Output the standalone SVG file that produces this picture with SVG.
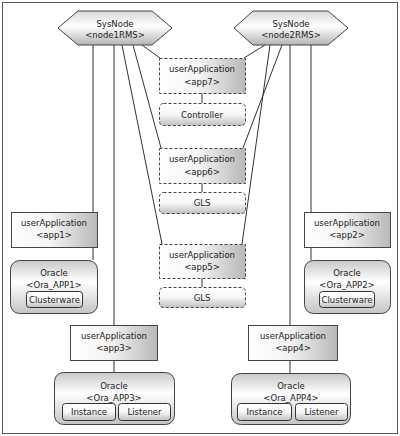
<svg xmlns="http://www.w3.org/2000/svg" width="400" height="436" viewBox="0 0 400 436">
<defs>
<linearGradient id="gHex" x1="0" y1="0" x2="0" y2="1">
<stop offset="0" stop-color="#d8d8d8"/><stop offset="0.45" stop-color="#ffffff"/><stop offset="1" stop-color="#b4b4b4"/>
</linearGradient>
<linearGradient id="gApp" x1="0" y1="0" x2="1" y2="0">
<stop offset="0" stop-color="#ffffff"/><stop offset="0.45" stop-color="#f4f4f4"/><stop offset="1" stop-color="#b8b8b8"/>
</linearGradient>
<linearGradient id="gRes" x1="0" y1="0" x2="0" y2="1">
<stop offset="0" stop-color="#c8c8c8"/><stop offset="0.4" stop-color="#ffffff"/><stop offset="1" stop-color="#c4c4c4"/>
</linearGradient>
<linearGradient id="gSub" x1="0" y1="0" x2="0" y2="1">
<stop offset="0" stop-color="#ffffff"/><stop offset="0.5" stop-color="#f6f6f6"/><stop offset="1" stop-color="#c0c0c0"/>
</linearGradient>
</defs>
<style>
text{font-family:"DejaVu Sans","Liberation Sans",sans-serif;font-size:8.5px;fill:#222;text-anchor:middle}
.hex{fill:url(#gHex);stroke:#444;stroke-width:1}
.app{fill:url(#gApp);stroke:#444;stroke-width:1}
.dapp{fill:url(#gApp);stroke:#444;stroke-width:1;stroke-dasharray:3,2}
.res{fill:url(#gRes);stroke:#444;stroke-width:1}
.dres{fill:url(#gSub);stroke:#444;stroke-width:1;stroke-dasharray:3,2}
.sub{fill:url(#gSub);stroke:#333;stroke-width:1}
.ln{stroke:#333;stroke-width:1;fill:none}
</style>
<rect x="2.5" y="2.5" width="395" height="431" fill="#fff" stroke="#555" stroke-width="1"/>
<g id="connectors">
<line class="ln" x1="93" y1="45" x2="93" y2="212"/>
<line class="ln" x1="93" y1="247" x2="93" y2="260"/>
<line class="ln" x1="114" y1="45" x2="114" y2="325"/>
<line class="ln" x1="114" y1="360" x2="114" y2="372"/>
<line class="ln" x1="122" y1="45" x2="162" y2="244"/>
<line class="ln" x1="133" y1="45" x2="161" y2="148"/>
<line class="ln" x1="142" y1="45" x2="160" y2="58"/>
<line class="ln" x1="311" y1="45" x2="311" y2="212"/>
<line class="ln" x1="311" y1="247" x2="311" y2="260"/>
<line class="ln" x1="290" y1="45" x2="290" y2="325"/>
<line class="ln" x1="290" y1="360" x2="290" y2="373"/>
<line class="ln" x1="270" y1="45" x2="242" y2="244"/>
<line class="ln" x1="282" y1="45" x2="243" y2="148"/>
<line class="ln" x1="265" y1="45" x2="244" y2="58"/>
<line class="ln" x1="202" y1="93" x2="202" y2="103"/>
<line class="ln" x1="202" y1="183" x2="202" y2="192"/>
<line class="ln" x1="202" y1="278" x2="202" y2="287"/>
</g>
<g id="node1RMS">
<polygon class="hex" points="58,28 78,11 152,11 172,28 152,45 78,45"/>
<text x="115" y="27">SysNode</text>
<text x="115" y="38">&lt;node1RMS&gt;</text>
</g>
<g id="node2RMS">
<polygon class="hex" points="234,28 253,11 328,11 348,28 328,45 253,45"/>
<text x="291" y="27">SysNode</text>
<text x="291" y="38">&lt;node2RMS&gt;</text>
</g>
<g id="app7">
<rect class="dapp" x="159.5" y="58.5" width="86" height="35"/>
<text x="202" y="72">userApplication</text>
<text x="202" y="85">&lt;app7&gt;</text>
</g>
<g id="controller">
<rect class="dres" x="159.5" y="103.5" width="86" height="22" rx="4"/>
<text x="202" y="117.5">Controller</text>
</g>
<g id="app6">
<rect class="dapp" x="159.5" y="148.5" width="86" height="35"/>
<text x="202" y="162">userApplication</text>
<text x="202" y="175">&lt;app6&gt;</text>
</g>
<g id="gls1">
<rect class="dres" x="159.5" y="192.5" width="86" height="21" rx="4"/>
<text x="202" y="206">GLS</text>
</g>
<g id="app5">
<rect class="dapp" x="159.5" y="244.5" width="86" height="34"/>
<text x="202" y="258">userApplication</text>
<text x="202" y="270">&lt;app5&gt;</text>
</g>
<g id="gls2">
<rect class="dres" x="159.5" y="287.5" width="86" height="20" rx="4"/>
<text x="202" y="300.5">GLS</text>
</g>
<g id="app1">
<rect class="app" x="11.5" y="212.5" width="86" height="35"/>
<text x="54" y="225.5">userApplication</text>
<text x="54" y="237.5">&lt;app1&gt;</text>
</g>
<g id="Ora_APP1">
<rect class="res" x="10.5" y="260.5" width="87" height="53" rx="9"/>
<text x="54" y="276">Oracle</text>
<text x="54" y="287.5">&lt;Ora_APP1&gt;</text>
<rect class="sub" x="26.5" y="291.5" width="56" height="16" rx="3"/>
<text x="54.5" y="302.5">Clusterware</text>
</g>
<g id="app2">
<rect class="app" x="304.5" y="212.5" width="86" height="35"/>
<text x="347" y="225.5">userApplication</text>
<text x="347" y="237.5">&lt;app2&gt;</text>
</g>
<g id="Ora_APP2">
<rect class="res" x="304.5" y="260.5" width="86" height="53" rx="9"/>
<text x="347" y="276">Oracle</text>
<text x="347" y="287.5">&lt;Ora_APP2&gt;</text>
<rect class="sub" x="319.5" y="291.5" width="55" height="16" rx="3"/>
<text x="347" y="302.5">Clusterware</text>
</g>
<g id="app3">
<rect class="app" x="70.5" y="325.5" width="87" height="35"/>
<text x="114" y="338.5">userApplication</text>
<text x="114" y="350.5">&lt;app3&gt;</text>
</g>
<g id="Ora_APP3">
<rect class="res" x="54.5" y="372.5" width="120" height="52" rx="9"/>
<text x="114" y="389">Oracle</text>
<text x="114" y="401">&lt;Ora_APP3&gt;</text>
<rect class="sub" x="62.5" y="403.5" width="53" height="17" rx="3"/>
<text x="89" y="415">Instance</text>
<rect class="sub" x="118.5" y="403.5" width="52" height="17" rx="3"/>
<text x="144.5" y="415">Listener</text>
</g>
<g id="app4">
<rect class="app" x="248.5" y="325.5" width="89" height="35"/>
<text x="293" y="338.5">userApplication</text>
<text x="293" y="350.5">&lt;app4&gt;</text>
</g>
<g id="Ora_APP4">
<rect class="res" x="231.5" y="373.5" width="119" height="51" rx="9"/>
<text x="291" y="389">Oracle</text>
<text x="291" y="401">&lt;Ora_APP4&gt;</text>
<rect class="sub" x="237.5" y="403.5" width="54" height="17" rx="3"/>
<text x="264.5" y="415">Instance</text>
<rect class="sub" x="295.5" y="403.5" width="52" height="17" rx="3"/>
<text x="321.5" y="415">Listener</text>
</g>
</svg>
